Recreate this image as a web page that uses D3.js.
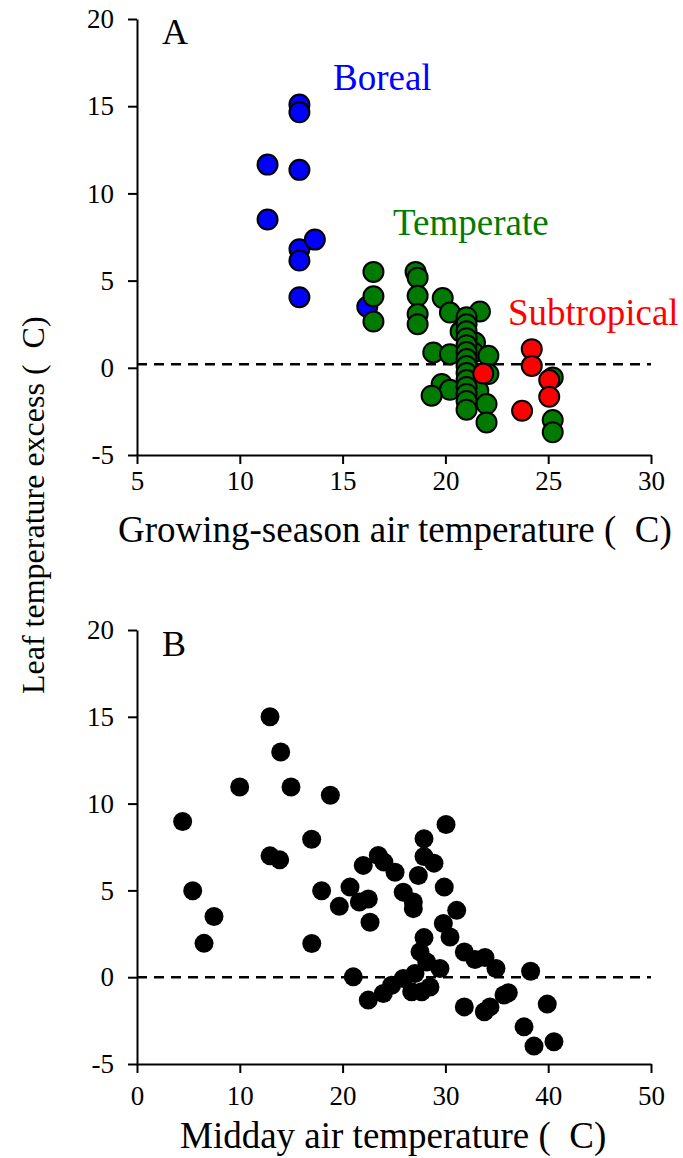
<!DOCTYPE html>
<html>
<head>
<meta charset="utf-8">
<script src="https://cdn.jsdelivr.net/npm/d3@7"></script>
<style>
  body { margin: 0; background: #fff; }
</style>
</head>
<body>
<svg id="chart"></svg>
<script>
// panel A: growing-season air temperature vs leaf temperature excess
const borealX = [12.9, 12.9, 11.35, 12.9, 11.35, 12.9, 12.9, 13.65, 12.9, 16.2];
const borealY = [15.1, 14.65, 11.65, 11.35, 8.5, 6.8, 6.15, 7.35, 4.05, 3.5];

const temperateX = [16.5, 16.5, 16.5, 18.55, 18.65, 18.65, 18.65, 18.65, 19.87, 20.22,
    21.68, 20.74, 19.41, 20.22, 21.44, 21.36, 22.09, 21.28, 22.09, 19.82,
    20.22, 19.33, 21.6, 22.0, 22.0, 25.22, 25.22, 25.22,
    21.03, 21.03, 21.03, 21.03, 21.03, 21.03, 21.03, 21.03, 21.03, 21.03, 21.03, 21.03, 21.03, 21.03];
const temperateY = [5.5, 4.1, 2.65, 5.5, 5.17, 4.13, 3.08, 2.5, 4.0, 3.17,
    3.23, 2.08, 0.88, 0.78, 1.45, 0.88, 0.69, -0.46, -0.36, -0.93,
    -1.26, -1.6, -1.32, -2.08, -3.13, -0.55, -3.0, -3.7,
    2.9, 2.5, 2.1, 1.7, 1.3, 0.9, 0.5, 0.1, -0.3, -0.7, -1.1, -1.5, -1.9, -2.4];

const subtropicalX = [24.2, 24.2, 21.84, 25.05, 25.05, 23.73];
const subtropicalY = [1.07, 0.11, -0.33, -0.7, -1.66, -2.46];

// panel B: midday air temperature vs leaf temperature excess
const middayX = [4.44, 5.42, 6.52, 7.49, 9.99, 12.94, 12.94, 13.88, 13.98, 14.98,
    16.99, 17.0, 17.96, 18.81, 19.68, 20.72, 21.04, 21.63, 22.01, 22.5,
    22.67, 22.5, 23.47, 24.02, 23.96, 24.77, 25.1, 25.9, 25.9, 26.72,
    26.88, 26.88, 27.04, 27.37, 27.53, 27.69, 27.92, 27.92, 27.92, 28.18,
    28.5, 28.89, 29.47, 29.8, 29.89, 30.06, 30.45, 31.1, 31.84, 31.84,
    32.88, 33.79, 33.85, 34.34, 34.92, 35.7, 36.12, 37.65, 38.29, 38.62,
    39.91, 40.56];
const middayY = [8.97, 4.98, 1.95, 3.5, 10.96, 15.0, 6.99, 6.76, 12.97, 10.96,
    7.95, 1.94, 4.98, 10.48, 4.08, 5.19, 0.02, 4.33, 6.44, 4.5,
    3.16, -1.32, 7.01, 6.63, -0.94, -0.46, 6.05, 4.9, -0.07, -0.84,
    4.33, 3.95, 0.21, 5.86, 1.46, -0.84, 7.97, 6.95, 2.28, 0.88,
    -0.56, 6.57, 0.5, 3.09, 5.19, 8.8, 2.32, 3.85, 1.45, -1.71,
    1.02, -1.99, 1.13, -1.71, 0.5, -1.03, -0.9, -2.86, 0.34, -3.97,
    -1.55, -3.72];

const yTicks = [-5, 0, 5, 10, 15, 20];
const xTicksA = [5, 10, 15, 20, 25, 30];
const xTicksB = [0, 10, 20, 30, 40, 50];
const refLineA = 0.2;
const refLineB = 0;

const serif = "'Liberation Serif', 'Times New Roman', 'DejaVu Serif', serif";

var w = 683;
var h = 1158;
var margin = { left: 137, right: 32 };

var svg = d3.select("#chart")
    .attr("width", w)
    .attr("height", h)
    .attr("font-family", serif);

var xA = d3.scaleLinear().domain([5, 30]).range([margin.left, w - margin.right]);
var yA = d3.scaleLinear().domain([-5, 20]).range([455, 19]);
var xB = d3.scaleLinear().domain([0, 50]).range([margin.left, w - margin.right]);
var yB = d3.scaleLinear().domain([-5, 20]).range([1064, 630]);

const drawAxes = (xScale, yScale, xTicks, xPad) => {
    let xAxis = g => g
        .attr("transform", `translate(0,${yScale.range()[0]})`)
        .call(d3.axisBottom(xScale).tickValues(xTicks).tickFormat(d => String(d))
            .tickSize(9).tickSizeOuter(0).tickPadding(xPad))
        .call(g => g.attr("font-family", serif))
        .call(g => g.selectAll("text").style("font-family", serif).style("font-size", "27px").attr("fill", "#000"))
        .call(g => g.selectAll("line, path").attr("stroke", "#000").attr("stroke-width", 2));

    let yAxis = g => g
        .attr("transform", `translate(${xScale.range()[0]},0)`)
        .call(d3.axisLeft(yScale).tickValues(yTicks).tickFormat(d => String(d))
            .tickSize(9).tickSizeOuter(0).tickPadding(14))
        .call(g => g.attr("font-family", serif))
        .call(g => g.selectAll("text").style("font-family", serif).style("font-size", "27px").attr("fill", "#000"))
        .call(g => g.selectAll("line, path").attr("stroke", "#000").attr("stroke-width", 2));

    svg.append("g").call(xAxis);
    svg.append("g").call(yAxis);
};

const drawRefLine = (xScale, yScale, value) => {
    svg.append("line")
        .attr("x1", xScale.range()[0])
        .attr("x2", xScale.range()[1])
        .attr("y1", yScale(value))
        .attr("y2", yScale(value))
        .attr("stroke", "#000")
        .attr("stroke-width", 2.5)
        .attr("stroke-dasharray", "10,7");
};

const drawPoints = (xs, ys, xScale, yScale, color, r, strokeW) => {
    svg.append("g")
        .selectAll("circle")
        .data(xs.map((x, i) => [x, ys[i]]))
        .join("circle")
        .attr("cx", d => xScale(d[0]))
        .attr("cy", d => yScale(d[1]))
        .attr("r", r)
        .attr("fill", color)
        .attr("stroke", "#000")
        .attr("stroke-width", strokeW);
};

const label = (x, y, size, color, txt) => svg.append("text")
    .attr("x", x).attr("y", y)
    .style("font-family", serif)
    .style("font-size", size + "px")
    .attr("fill", color)
    .text(txt);

// panel A
drawAxes(xA, yA, xTicksA, 7);
drawRefLine(xA, yA, refLineA);
drawPoints(borealX, borealY, xA, yA, "#0000ff", 10, 2);
drawPoints(temperateX, temperateY, xA, yA, "#007a00", 10, 2);
drawPoints(subtropicalX, subtropicalY, xA, yA, "#ff0000", 10, 2);

label(162, 44, 36, "#000", "A");
label(333, 90, 37, "#0000ff", "Boreal");
label(393, 235, 37, "#007a00", "Temperate");
label(508, 325, 37, "#ff0000", "Subtropical");

label(118, 542, 37, "#000", "Growing-season air temperature (\u00a0\u00a0C)");

// panel B
drawAxes(xB, yB, xTicksB, 13);
drawRefLine(xB, yB, refLineB);
drawPoints(middayX, middayY, xB, yB, "#000", 9.5, 0);

label(162, 656, 36, "#000", "B");
label(180, 1148, 37, "#000", "Midday air temperature (\u00a0\u00a0C)");

// shared y title
svg.append("text")
    .attr("transform", "translate(44,694) rotate(-90)")
    .style("font-family", serif)
    .style("font-size", "32px")
    .text("Leaf temperature excess (\u00a0\u00a0C)");
</script>
</body>
</html>
